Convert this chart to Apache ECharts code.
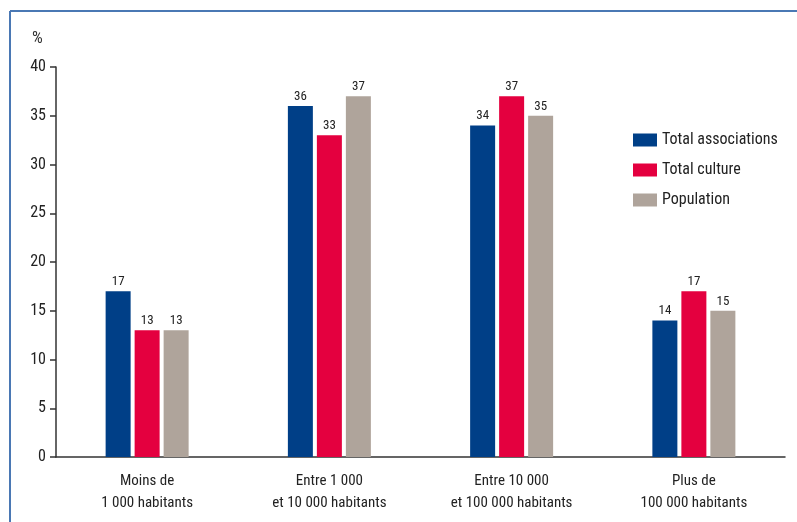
<!DOCTYPE html>
<html>
<head>
<meta charset="utf-8">
<script src="https://cdn.jsdelivr.net/npm/echarts@6/dist/echarts.min.js"></script>
<style>
html, body { margin: 0; padding: 0; background: #fff; }
#chart { width: 797px; height: 522px; }
</style>
</head>
<body>
<div id="chart"></div>
<script>
var categories = ['Moins de\n1 000 habitants', 'Entre 1 000\net 10 000 habitants', 'Entre 10 000\net 100 000 habitants', 'Plus de\n100 000 habitants'];
var totalAssociations = [17, 36, 34, 14];
var totalCulture = [13, 33, 37, 17];
var population = [13, 37, 35, 15];
var seriesNames = ['Total associations', 'Total culture', 'Population'];
var colors = ['#003f87', '#e4003f', '#afa49b'];

var font = '"Liberation Sans Narrow", "Roboto Condensed", Roboto, sans-serif';

var chart = echarts.init(document.getElementById('chart'));

function barSeries(name, data, color) {
    return {
        name: name,
        type: 'bar',
        data: data,
        barWidth: 25,
        barGap: '16%',
        itemStyle: { color: color },
        label: {
            show: true,
            position: 'top',
            distance: 3,
            color: '#222',
            fontFamily: font,
            fontSize: 13
        }
    };
}

chart.setOption({
    animation: false,
    color: colors,
    textStyle: { fontFamily: font },
    graphic: [
        // cadre bleu
        { type: 'line', shape: { x1: 10, y1: 11, x2: 797, y2: 11 }, style: { stroke: '#4a78b4', lineWidth: 2 } },
        { type: 'line', shape: { x1: 10, y1: 11, x2: 10, y2: 522 }, style: { stroke: '#4a78b4', lineWidth: 2 } },
        { type: 'text', left: 32, top: 30, style: { text: '%', fontFamily: font, fontSize: 17, fill: '#333' } }
    ],
    grid: { left: 56, right: 12, top: 67, bottom: 65 },
    legend: {
        orient: 'vertical',
        left: 628,
        top: 127,
        itemWidth: 24,
        itemHeight: 13,
        itemGap: 14,
        icon: 'rect',
        data: seriesNames,
        textStyle: { fontFamily: font, fontSize: 16, color: '#222' }
    },
    xAxis: {
        type: 'category',
        data: categories,
        axisLine: { lineStyle: { color: '#333', width: 1.5 } },
        axisTick: { length: 7, lineStyle: { color: '#333', width: 1.5 } },
        axisLabel: {
            margin: 13,
            color: '#222',
            fontFamily: font,
            fontSize: 15,
            lineHeight: 22
        }
    },
    yAxis: {
        type: 'value',
        min: 0,
        max: 40,
        interval: 5,
        splitLine: { show: false },
        axisLine: { show: true, lineStyle: { color: '#333', width: 1.5 } },
        axisTick: { show: true, length: 6, lineStyle: { color: '#333', width: 1.5 } },
        axisLabel: {
            margin: 10,
            color: '#222',
            fontFamily: font,
            fontSize: 16
        }
    },
    series: [
        barSeries(seriesNames[0], totalAssociations, colors[0]),
        barSeries(seriesNames[1], totalCulture, colors[1]),
        barSeries(seriesNames[2], population, colors[2])
    ]
});
</script>
</body>
</html>
